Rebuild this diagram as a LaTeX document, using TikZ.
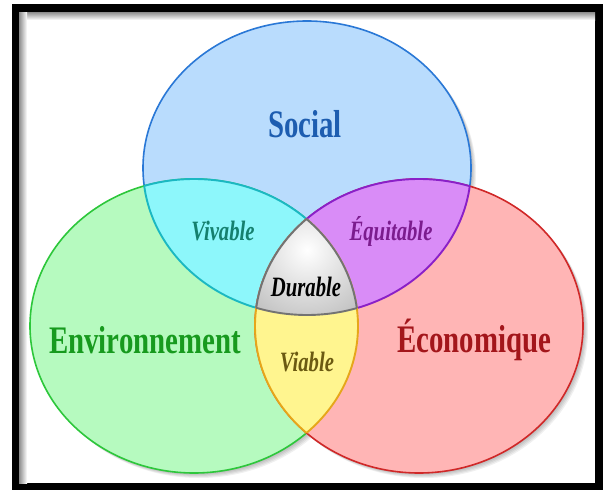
\documentclass[tikz,border=0pt]{standalone}
\usepackage{fontspec}
\setmainfont{Liberation Serif}
\newfontfamily\venfont[FakeStretch=0.74]{Liberation Serif}

\definecolor{socfill}{HTML}{B9DCFD}
\definecolor{socline}{HTML}{2A78D6}
\definecolor{envfill}{HTML}{B6FABF}
\definecolor{envline}{HTML}{2DC73B}
\definecolor{ecofill}{HTML}{FFB5B5}
\definecolor{ecoline}{HTML}{D02828}
\definecolor{vivfill}{HTML}{8DF7FB}
\definecolor{vivline}{HTML}{1BB8C2}
\definecolor{equfill}{HTML}{D98CF7}
\definecolor{equline}{HTML}{8A20C8}
\definecolor{viafill}{HTML}{FFF58F}
\definecolor{vialine}{HTML}{E6A61A}
\definecolor{socialtext}{HTML}{1D5DB0}
\definecolor{envtext}{HTML}{179A1E}
\definecolor{ecotext}{HTML}{A3161B}
\definecolor{vivtext}{HTML}{15806E}
\definecolor{equtext}{HTML}{7B1C8E}
\definecolor{viatext}{HTML}{6B5A12}

\newcommand{\socialpath}{(307,168) ellipse [x radius=164pt, y radius=147pt]}
\newcommand{\envpath}{(194,326) ellipse [x radius=164pt, y radius=147pt]}
\newcommand{\ecopath}{(419,326) ellipse [x radius=164pt, y radius=147pt]}

\begin{document}
\begin{tikzpicture}[x=1pt, y=-1pt,
    sphere/.style ={line width=1.6pt},
    lens/.style ={line width=1.9pt},
    big/.style ={font=\venfont\bfseries\fontsize{39}{39}\selectfont},
    small/.style ={font=\venfont\bfseries\itshape\fontsize{28}{28}\selectfont}]
   \useasboundingbox (0,0) rectangle (603,490);

   % frame
   \fill[black] (12,4) rectangle (603,490);
   \fill[white] (19,12) rectangle (595,483);
   \shade[top color=black!45, bottom color=white] (19,12) rectangle (595,20);
   \shade[left color=black!45, right color=white] (19,12) rectangle (27,483);

   % shadows
   \foreach \s in {1,...,5} {
     \begin{scope}[shift={(\s,\s)}]
       \fill[black, opacity=0.06] \socialpath;
       \fill[black, opacity=0.06] \envpath;
       \fill[black, opacity=0.06] \ecopath;
     \end{scope}
   }

   % the three sets
   \draw[sphere, socline, fill=socfill] \socialpath;
   \draw[sphere, envline, fill=envfill] \envpath;
   \draw[sphere, ecoline, fill=ecofill] \ecopath;

   % social and environment
   \begin{scope}
     \clip \socialpath; \fill[vivfill] \envpath; \draw[lens, vivline] \envpath;
   \end{scope}
   \begin{scope}
     \clip \envpath; \draw[lens, vivline] \socialpath;
   \end{scope}

   % social and economy
   \begin{scope}
     \clip \socialpath; \fill[equfill] \ecopath; \draw[lens, equline] \ecopath;
   \end{scope}
   \begin{scope}
     \clip \ecopath; \draw[lens, equline] \socialpath;
   \end{scope}

   % environment and economy
   \begin{scope}
     \clip \envpath; \fill[viafill] \ecopath; \draw[lens, vialine] \ecopath;
   \end{scope}
   \begin{scope}
     \clip \ecopath; \draw[lens, vialine] \envpath;
   \end{scope}

   % all three
   \begin{scope}
     \clip \socialpath; \clip \envpath; \clip \ecopath;
     \shade[inner color=white, outer color=black!30] (307,250) circle (95pt);
   \end{scope}
   \begin{scope}
     \clip \socialpath; \clip \envpath; \draw[lens, black!55] \ecopath;
   \end{scope}
   \begin{scope}
     \clip \socialpath; \clip \ecopath; \draw[lens, black!55] \envpath;
   \end{scope}
   \begin{scope}
     \clip \envpath; \clip \ecopath; \draw[lens, black!55] \socialpath;
   \end{scope}

   % labels
   \node[big, socialtext] (social) at (305,124) {Social};
   \node[big, envtext] (env) at (145,340) {Environnement};
   \node[big, ecotext] (eco) at (474,340) {Économique};
   \node[small, vivtext] (vivable) at (223,231) {Vivable};
   \node[small, equtext] (equitable) at (391,231) {Équitable};
   \node[small, black] (durable) at (306,287) {Durable};
   \node[small, viatext] (viable) at (307,362) {Viable};
 \end{tikzpicture}
\end{document}
